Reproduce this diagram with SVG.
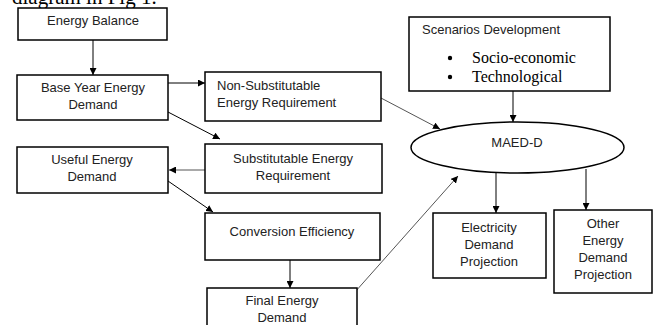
<svg xmlns="http://www.w3.org/2000/svg" width="654" height="325" viewBox="0 0 654 325">
<defs>
<marker id="ah" viewBox="0 0 10 10" refX="10" refY="5" markerWidth="7" markerHeight="7" markerUnits="userSpaceOnUse" orient="auto">
<path d="M0,0 L10,5 L0,10 z" fill="#000"/>
</marker>
</defs>
<style>
.box{fill:#fff;stroke:#000;stroke-width:1.5}
.t{font-family:"Liberation Sans",Arial,sans-serif;font-size:13px;fill:#222}
.c{text-anchor:middle}
.s{font-family:"Liberation Serif","Times New Roman",serif;font-size:16px;fill:#000}
.ln{stroke:#000;stroke-width:1;fill:none;marker-end:url(#ah)}
.lg{stroke:#555;stroke-width:1;fill:none;marker-end:url(#ah)}
</style>
<rect width="654" height="325" fill="#fff"/>
<text x="12" y="4" font-family="'Liberation Serif','Times New Roman',serif" font-size="21" fill="#000">diagram in Fig 1.</text>

<g id="connectors">
<line class="ln" x1="93" y1="40" x2="93" y2="75"/>
<line class="ln" x1="168" y1="83" x2="205" y2="83"/>
<line class="ln" x1="168" y1="112" x2="220" y2="139"/>
<line class="lg" x1="205" y1="170" x2="169" y2="170"/>
<line class="ln" x1="168" y1="181" x2="213" y2="212"/>
<line class="ln" x1="290" y1="260" x2="290" y2="288"/>
<line class="lg" x1="381" y1="98" x2="440" y2="129"/>
<line class="lg" x1="355" y1="292" x2="458" y2="176"/>
<line class="ln" x1="513" y1="91" x2="513" y2="122"/>
<line class="ln" x1="496" y1="173" x2="496" y2="213"/>
<line class="ln" x1="586" y1="169" x2="586" y2="210"/>
</g>

<g id="energy-balance">
<rect class="box" x="18" y="8" width="149" height="32"/>
<text class="t c" x="93" y="25">Energy Balance</text>
</g>
<g id="base-year">
<rect class="box" x="17" y="75" width="151" height="45"/>
<text class="t c" x="93" y="92">Base Year Energy</text>
<text class="t c" x="93" y="109">Demand</text>
</g>
<g id="non-substitutable">
<rect class="box" x="205" y="72" width="176" height="49"/>
<text class="t" x="217" y="90">Non-Substitutable</text>
<text class="t" x="217" y="107">Energy Requirement</text>
</g>
<g id="substitutable">
<rect class="box" x="205" y="144" width="177" height="49"/>
<text class="t c" x="293" y="163">Substitutable Energy</text>
<text class="t c" x="293" y="180">Requirement</text>
</g>
<g id="useful">
<rect class="box" x="17" y="147" width="151" height="46"/>
<text class="t c" x="92" y="164">Useful Energy</text>
<text class="t c" x="92" y="181">Demand</text>
</g>
<g id="conversion">
<rect class="box" x="205" y="213" width="175" height="47"/>
<text class="t c" x="292" y="236">Conversion Efficiency</text>
</g>
<g id="final">
<rect class="box" x="207" y="288" width="150" height="45"/>
<text class="t c" x="282" y="305">Final Energy</text>
<text class="t c" x="282" y="322">Demand</text>
</g>
<g id="scenarios">
<rect class="box" x="409" y="17" width="201" height="74"/>
<text class="t" x="422" y="34">Scenarios Development</text>
<circle cx="450" cy="58" r="2.2" fill="#000"/>
<circle cx="450" cy="77" r="2.2" fill="#000"/>
<text class="s" x="472" y="63">Socio-economic</text>
<text class="s" x="472" y="82">Technological</text>
</g>
<g id="maed">
<ellipse cx="517.5" cy="147.5" rx="106.5" ry="25.5" fill="#fff" stroke="#000" stroke-width="1.5"/>
<text class="t c" x="517" y="147">MAED-D</text>
</g>
<g id="electricity">
<rect class="box" x="433" y="213" width="113" height="65"/>
<text class="t c" x="489" y="232">Electricity</text>
<text class="t c" x="489" y="249">Demand</text>
<text class="t c" x="489" y="266">Projection</text>
</g>
<g id="other">
<rect class="box" x="554" y="210" width="98" height="83"/>
<text class="t c" x="603" y="228">Other</text>
<text class="t c" x="603" y="245">Energy</text>
<text class="t c" x="603" y="262">Demand</text>
<text class="t c" x="603" y="279">Projection</text>
</g>
</svg>
